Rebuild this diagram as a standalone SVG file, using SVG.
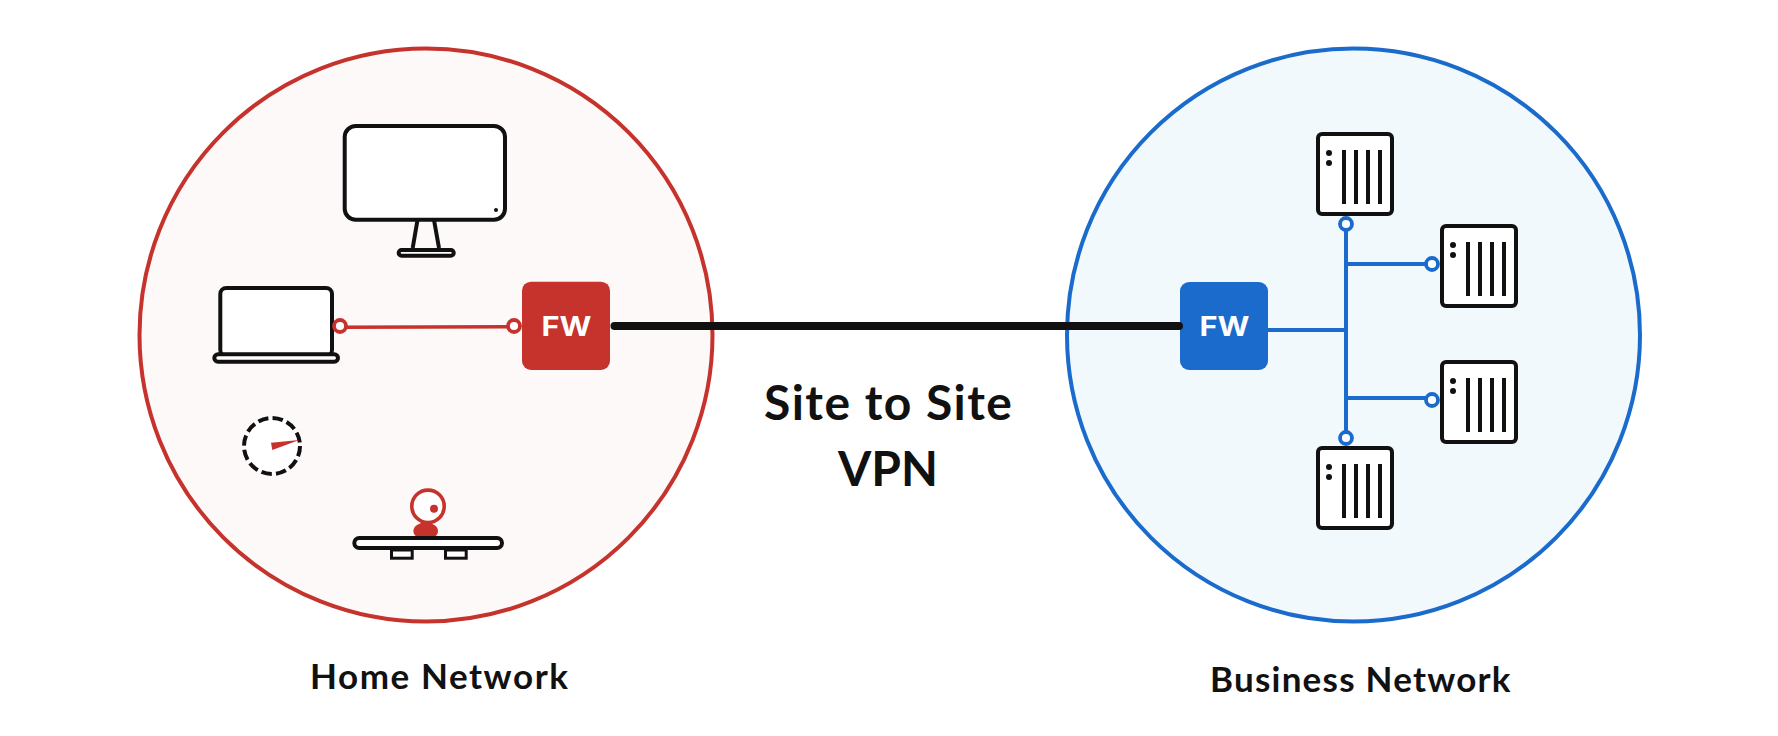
<svg xmlns="http://www.w3.org/2000/svg" width="1778" height="736" viewBox="0 0 1778 736">
<style>
.ink{fill:#fff;stroke:#111;stroke-width:4}
.line{fill:none;stroke:#111;stroke-width:4}
.bar{fill:#111}
.red{fill:none;stroke:#c6322c;stroke-width:3.5}
.blue{fill:none;stroke:#1a6bcb;stroke-width:4}
.pinr{fill:#fff;stroke:#c6322c;stroke-width:3.8}
.pinb{fill:#fff;stroke:#1a6bcb;stroke-width:3.8}
.lbl{font-family:"Lato","Liberation Sans",sans-serif;font-weight:700;fill:#111}
.fw{font-family:"Inter","Liberation Sans",sans-serif;font-weight:700;font-size:27.5px;fill:#fff}
</style>
<defs>
<g id="server">
<rect class="ink" x="1318" y="134" width="74" height="80" rx="4"/>
<rect class="bar" x="1342" y="150" width="4" height="54"/>
<rect class="bar" x="1354" y="150" width="4" height="54"/>
<rect class="bar" x="1366" y="150" width="4" height="54"/>
<rect class="bar" x="1378" y="150" width="4" height="54"/>
<circle class="bar" cx="1329" cy="153" r="3"/>
<circle class="bar" cx="1329" cy="163" r="3"/>
</g>
</defs>
<rect width="1778" height="736" fill="#fff"/>
<g id="home-network"><circle cx="426" cy="335" r="286.5" fill="#fdf9f9" stroke="#c6322c" stroke-width="4"/></g>
<g id="business-network"><circle cx="1353.5" cy="335" r="286.5" fill="#f2f9fd" stroke="#1a6bcb" stroke-width="4"/></g>
<g id="monitor">
<rect class="ink" x="344.7" y="126" width="160.3" height="93.7" rx="11"/>
<path class="line" d="M417.5 220L412.7 248M434 220L439 248"/>
<rect class="ink" x="398.7" y="250" width="55" height="5.7" rx="2.8"/>
<circle class="bar" cx="496" cy="210" r="2"/>
</g>
<g id="laptop">
<rect class="ink" x="220.3" y="288" width="111.7" height="68" rx="6"/>
<rect class="ink" x="214.3" y="354.3" width="123.7" height="7.4" rx="3.7"/>
</g>
<g id="gauge">
<circle cx="272" cy="446" r="28" fill="#fff" stroke="#111" stroke-width="4" stroke-dasharray="10.5 4.2"/>
<polygon points="271,442.7 272.3,450 299.3,440" fill="#c6322c"/>
</g>
<g id="webcam">
<ellipse cx="425.7" cy="531" rx="12.3" ry="8.5" fill="#c6322c"/>
<circle cx="428" cy="506.3" r="16.2" fill="#fff" stroke="#c6322c" stroke-width="3.6"/>
<circle cx="434" cy="508.7" r="4" fill="#c6322c"/>
<rect x="391.5" y="550" width="20.7" height="8.2" fill="#fff" stroke="#111" stroke-width="3"/>
<rect x="445.5" y="550" width="20.7" height="8.2" fill="#fff" stroke="#111" stroke-width="3"/>
<rect class="ink" x="354.3" y="538" width="147.7" height="10" rx="5"/>
</g>
<g id="fw-home">
<rect x="522" y="281.7" width="88" height="88.3" rx="9" fill="#c6322c"/>
<text class="fw" x="541.5" y="336" textLength="50" lengthAdjust="spacingAndGlyphs">FW</text>
</g>
<g id="fw-business">
<rect x="1180" y="282" width="88" height="88" rx="9" fill="#1a6bcb"/>
<text class="fw" x="1199.5" y="336" textLength="50" lengthAdjust="spacingAndGlyphs">FW</text>
</g>
<g id="server-1"><use href="#server"/></g>
<g id="server-2"><use href="#server" x="124" y="92"/></g>
<g id="server-3"><use href="#server" x="124" y="228"/></g>
<g id="server-4"><use href="#server" y="314"/></g>
<g id="connectors">
<path class="red" d="M340 327.3L514 326.7"/>
<path d="M614.5 326H1179" fill="none" stroke="#111" stroke-width="8" stroke-linecap="round"/>
<path class="blue" d="M1268 330H1346M1346 224V438M1346 264H1432M1346 398H1432"/>
</g>
<g id="pins">
<circle class="pinr" cx="340" cy="326" r="6"/>
<circle class="pinr" cx="514" cy="326" r="6"/>
<circle class="pinb" cx="1346" cy="224" r="6"/>
<circle class="pinb" cx="1346" cy="438" r="6"/>
<circle class="pinb" cx="1432" cy="264" r="6"/>
<circle class="pinb" cx="1432" cy="400" r="6"/>
</g>
<g id="labels">
<text class="lbl" x="764" y="420" font-size="48" textLength="248">Site to Site</text>
<text class="lbl" x="838" y="486" font-size="48" textLength="100">VPN</text>
<text class="lbl" x="310" y="689" font-size="35" textLength="258">Home Network</text>
<text class="lbl" x="1210" y="692" font-size="35" textLength="300.5">Business Network</text>
</g>
</svg>
